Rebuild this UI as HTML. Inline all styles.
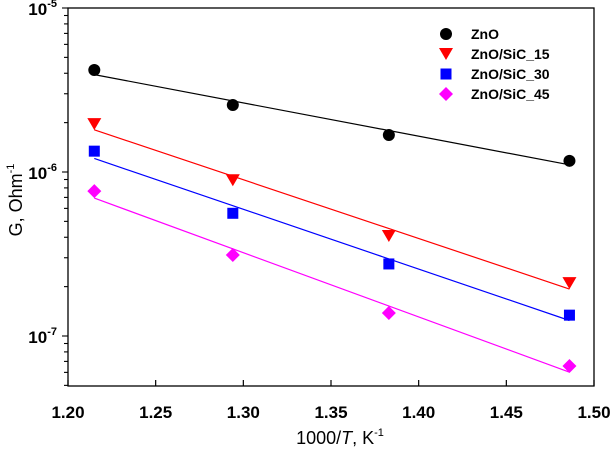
<!DOCTYPE html>
<html><head><meta charset="utf-8"><style>
html,body{margin:0;padding:0;background:#fff;}
svg{display:block;font-family:"Liberation Sans",Arial,sans-serif;}
</style></head><body>
<svg id="chart" width="612" height="452" viewBox="0 0 612 452"></svg>
<script>
const xValues=[1.215,1.294,1.383,1.486];
const seriesNames=["ZnO","ZnO/SiC_15","ZnO/SiC_30","ZnO/SiC_45"];
const znoValues=[4.19e-6,2.56e-6,1.68e-6,1.17e-6];
const sic15Values=[1.96e-6,8.9e-7,4.07e-7,2.1e-7];
const sic30Values=[1.34e-6,5.6e-7,2.75e-7,1.34e-7];
const sic45Values=[7.65e-7,3.12e-7,1.38e-7,6.56e-8];
const xTicks=[1.20,1.25,1.30,1.35,1.40,1.45,1.50];
const yDecades=[-7,-6,-5];

const L=68,R=594,T=8,B=386;
const xMin=1.2,xMax=1.5,logMin=-7+(-50/164),logMax=-5;
const NS="http://www.w3.org/2000/svg";
const svg=document.getElementById('chart');
function X(v){return L+(v-xMin)/(xMax-xMin)*(R-L);}
function Y(v){return B-(Math.log10(v)-logMin)/(logMax-logMin)*(B-T);}
function el(t,a,p){const e=document.createElementNS(NS,t);for(const k in a)e.setAttribute(k,a[k]);(p||svg).appendChild(e);return e;}

const frame=el('rect',{x:L,y:T,width:R-L,height:B-T,fill:'none',stroke:'#000','stroke-width':1.3});



xTicks.forEach(t=>{
  const ln=el('line',{x1:X(t),x2:X(t),y1:B,y2:B-6,stroke:'#000','stroke-width':1.2});
  
  
  const tx=el('text',{x:X(t),y:418,'text-anchor':'middle','font-size':17,'font-weight':'bold'});
  tx.textContent=t.toFixed(2);
  
  
});
for(let d=-8;d<=-5;d++){
  for(let m=1;m<10;m++){
    const v=m*Math.pow(10,d);
    const lv=Math.log10(v);
    if(lv<logMin-1e-9||lv>logMax+1e-9)continue;
    const ln=el('line',{x1:L,x2:L-(m===1?6:4),y1:Y(v),y2:Y(v),stroke:'#000','stroke-width':1.1});
    
    
  }
}
yDecades.forEach(d=>{
  const tx=el('text',{x:57,y:Y(Math.pow(10,d))+7,'text-anchor':'end','font-size':17,'font-weight':'bold'});
  tx.innerHTML='10<tspan dy="-8" font-size="11">'+d+'</tspan>';
  
  
});

const xt=el('text',{x:340,y:444,'text-anchor':'middle','font-size':18});
xt.innerHTML='1000/<tspan font-style="italic">T</tspan>, K<tspan dy="-8" font-size="11">-1</tspan>';


const yt=el('text',{x:0,y:0,'text-anchor':'middle','font-size':18,transform:'translate(22,200) rotate(-90)'});
yt.innerHTML='G, Ohm<tspan dy="-8" font-size="11">-1</tspan>';



const series=[znoValues,sic15Values,sic30Values,sic45Values];
const colors=['#000','#ff0000','#0000ff','#ff00ff'];
const shapes=['circle','tri','square','diamond'];
function marker(shape,cx,cy,c){
  if(shape==='circle')return el('circle',{cx,cy,r:6,fill:c});
  if(shape==='tri')return el('polygon',{points:`${cx-7},${cy-6} ${cx+7},${cy-6} ${cx},${cy+6}`,fill:c});
  if(shape==='square')return el('rect',{x:cx-5.5,y:cy-5.5,width:11,height:11,fill:c});
  return el('polygon',{points:`${cx},${cy-7} ${cx+7},${cy} ${cx},${cy+7} ${cx-7},${cy}`,fill:c});
}
series.forEach((vals,i)=>{
  const ly=vals.map(v=>Math.log10(v));
  const n=xValues.length;
  const mx=xValues.reduce((a,b)=>a+b)/n, my=ly.reduce((a,b)=>a+b)/n;
  let sxy=0,sxx=0;
  for(let k=0;k<n;k++){sxy+=(xValues[k]-mx)*(ly[k]-my);sxx+=(xValues[k]-mx)**2;}
  const s=sxy/sxx,b=my-s*mx;
  const x0=xValues[0],x1=xValues[n-1];
  const fl=el('line',{x1:X(x0),y1:Y(Math.pow(10,s*x0+b)),x2:X(x1),y2:Y(Math.pow(10,s*x1+b)),stroke:colors[i],'stroke-width':1.2});
  
  
  vals.forEach((v,k)=>{
    const m=marker(shapes[i],X(xValues[k]),Y(v),colors[i]);
    
    
  });
  const ly0=34+i*20;
  const lm=marker(shapes[i],446,ly0,colors[i]);
  
  
  const lt=el('text',{x:471,y:ly0+5,'font-size':14,'font-weight':'bold'});
  lt.textContent=seriesNames[i];
  
  
});
</script>
</body></html>
